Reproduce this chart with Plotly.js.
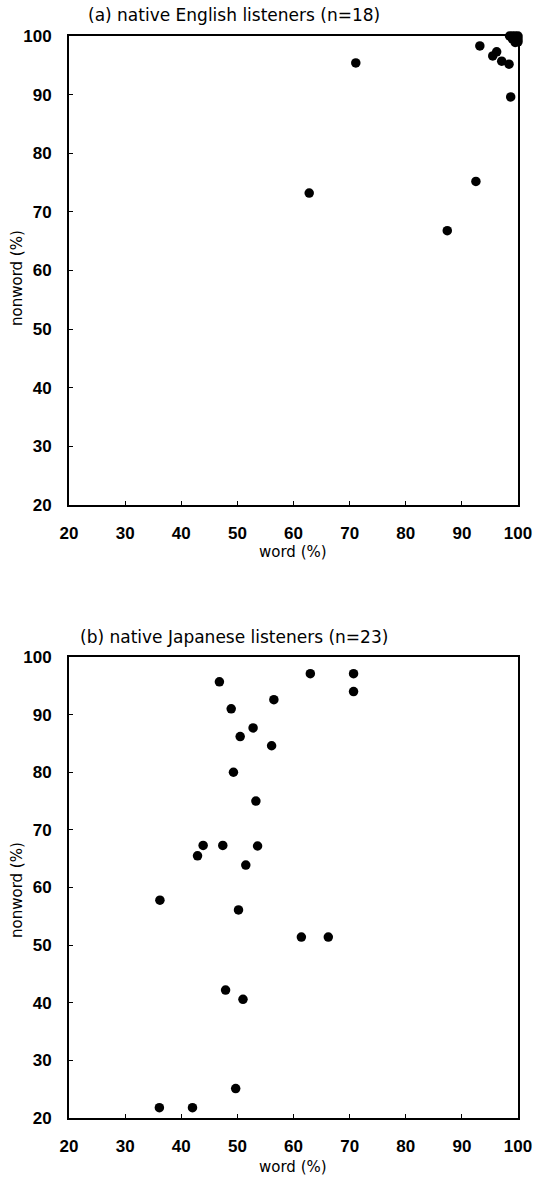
<!DOCTYPE html>
<html>
<head>
<meta charset="utf-8">
<script src="https://cdn.plot.ly/plotly-3.0.1.min.js"></script>
<style>html,body{margin:0;padding:0;background:#fff;}#chart{width:536px;height:1184px;}</style>
</head>
<body>
<div id="chart"></div>
<script>
// (a) native English listeners
const englishWord    = [62.8, 71.1, 87.4, 92.5, 93.2, 95.5, 96.2, 97.1, 98.4, 98.7, 98.5, 99.0, 99.5, 100.0, 100.0, 100.0, 99.5, 99.0];
const englishNonword = [73.2, 95.4, 66.8, 75.2, 98.3, 96.6, 97.3, 95.7, 95.2, 89.6, 100.0, 100.0, 100.0, 100.0, 99.5, 99.0, 98.9, 99.5];
// (b) native Japanese listeners
const japaneseWord    = [46.8, 63.0, 70.7, 70.7, 56.5, 48.9, 52.8, 50.5, 56.1, 49.3, 53.3, 43.9, 47.4, 53.6, 42.9, 51.5, 36.2, 50.2, 61.4, 66.2, 47.9, 51.0, 49.7, 36.1, 42.0];
const japaneseNonword = [95.7, 97.1, 97.1, 94.0, 92.6, 91.0, 87.7, 86.2, 84.6, 80.0, 75.0, 67.3, 67.3, 67.2, 65.5, 63.9, 57.8, 56.1, 51.4, 51.4, 42.2, 40.6, 25.1, 21.8, 21.8];

const tickVals = [20, 30, 40, 50, 60, 70, 80, 90, 100];
const titleA = "(a) native English listeners (n=18)";
const titleB = "(b) native Japanese listeners (n=23)";
const xLabel = "word (%)";
const yLabel = "nonword (%)";

const FONT = "Liberation Sans, Arial, sans-serif";
const TFONT = "DejaVu Sans, sans-serif";
const marker = {color: "#000", size: 9.5, symbol: "circle"};

const axisBase = {
  range: [20, 100], tickvals: tickVals, ticktext: tickVals.map(String),
  showgrid: false, zeroline: false, showline: true, linecolor: "#000", linewidth: 2,
  mirror: true, ticks: "inside", ticklen: 4, tickcolor: "#000", tickwidth: 1,
  tickfont: {family: FONT, size: 17, color: "#000", weight: "bold"}
};

const traces = [
  {x: englishWord, y: englishNonword, type: "scatter", mode: "markers", marker: marker, xaxis: "x", yaxis: "y", cliponaxis: false},
  {x: japaneseWord, y: japaneseNonword, type: "scatter", mode: "markers", marker: marker, xaxis: "x2", yaxis: "y2", cliponaxis: false}
];

const L = 69, R = 518, T = 36, B = 1118;
const H = B - T, W = R - L;
const py = p => (B - p) / H;
const px = p => (p - L) / W;

const ann = (text, x, y, size, opts) => Object.assign({
  text: text, xref: "paper", yref: "paper", x: x, y: y, showarrow: false,
  font: {family: TFONT, size: size, color: "#000"}, xanchor: "center", yanchor: "middle"
}, opts || {});

const layout = {
  width: 536, height: 1184,
  margin: {l: L, r: 536 - R, t: T, b: 1184 - B},
  paper_bgcolor: "#fff", plot_bgcolor: "#fff",
  showlegend: false,
  xaxis: Object.assign({}, axisBase, {domain: [0, 1], anchor: "y", ticklabelstandoff: 12}),
  yaxis: Object.assign({}, axisBase, {domain: [py(505), 1], anchor: "x", ticklabelstandoff: 12}),
  xaxis2: Object.assign({}, axisBase, {domain: [0, 1], anchor: "y2", ticklabelstandoff: 12}),
  yaxis2: Object.assign({}, axisBase, {domain: [0, py(657)], anchor: "x2", ticklabelstandoff: 12}),
  annotations: [
    ann(titleA, px(86), py(15), 17, {xanchor: "left"}),
    ann(titleB, px(78), py(637), 17, {xanchor: "left"}),
    ann(xLabel, px(293), py(552), 15),
    ann(xLabel, px(293), py(1167), 15),
    ann(yLabel, px(17), py(278), 15, {textangle: -90}),
    ann(yLabel, px(17), py(890), 15, {textangle: -90})
  ]
};

Plotly.newPlot("chart", traces, layout, {staticPlot: true});
</script>
</body>
</html>
